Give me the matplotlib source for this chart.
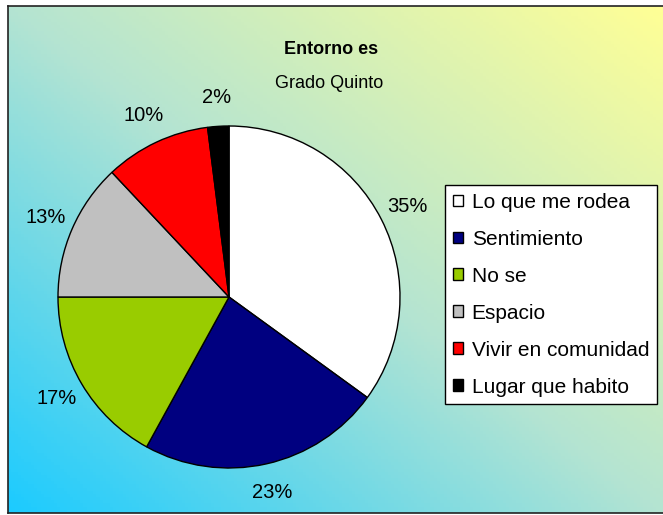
import numpy as np
import matplotlib.pyplot as plt
from matplotlib.colors import LinearSegmentedColormap

plt.rcParams['font.family'] = ['Liberation Sans', 'DejaVu Sans']

# Data
categories = ["Lo que me rodea", "Sentimiento", "No se", "Espacio",
              "Vivir en comunidad", "Lugar que habito"]
values = [35, 23, 17, 13, 10, 2]
colors = ["#FFFFFF", "#000080", "#99CC00", "#C0C0C0", "#FF0000", "#000000"]

title = "Entorno es"
subtitle = "Grado Quinto"

W, H = 663, 515
fig = plt.figure(figsize=(W / 100, H / 100), dpi=100)
fig.patch.set_facecolor("white")

# Gradient background (cyan bottom-left -> yellow top-right)
bg = fig.add_axes([8 / W, (H - 513) / H, (W - 8) / W, (513 - 6) / H])
nx, ny = 200, 160
xx, yy = np.meshgrid(np.linspace(0, 1, nx), np.linspace(0, 1, ny))
t = (xx + (1 - yy)) / 2
cmap = LinearSegmentedColormap.from_list(
    "bg", [(0.0, "#1CCBFF"), (0.5, "#B4E4D2"), (1.0, "#FFFF96")])
bg.imshow(t, cmap=cmap, aspect="auto", extent=(0, 1, 0, 1), origin="upper")
bg.set_xlim(0, 1)
bg.set_ylim(0, 1)
bg.set_xticks([])
bg.set_yticks([])
bg.spines["right"].set_visible(False)
for side in ["left", "top", "bottom"]:
    bg.spines[side].set_linewidth(1.2)
    bg.spines[side].set_color("#222222")

# Pie
cx, cy, r = 229, 297, 171
ax = fig.add_axes([(cx - r) / W, (H - cy - r) / H, 2 * r / W, 2 * r / H])
ax.set_facecolor("none")
wedges, texts, autotexts = ax.pie(
    values, colors=colors, startangle=90, counterclock=False,
    autopct="%1.0f%%", pctdistance=1.17,
    wedgeprops=dict(edgecolor="black", linewidth=1.0),
    textprops=dict(fontsize=14.5, color="black"))
ax.set_xlim(-1, 1)
ax.set_ylim(-1, 1)

fig.text(331 / W, 1 - 50 / H, title, ha="center", va="center",
         fontsize=13, fontweight="bold")
fig.text(329 / W, 1 - 83 / H, subtitle, ha="center", va="center",
         fontsize=13)

leg = fig.legend(wedges, categories, loc="upper left",
                 bbox_to_anchor=(445 / W, 1 - 185 / H),
                 fontsize=15, frameon=True, fancybox=False,
                 handlelength=0.5, handleheight=0.5, handletextpad=0.4,
                 labelspacing=0.86, borderpad=0.38, borderaxespad=0)
leg.get_frame().set_edgecolor("black")
leg.get_frame().set_linewidth(1.0)
leg.get_frame().set_facecolor("white")
leg.get_frame().set_alpha(1)

fig.savefig("out.png", dpi=100)
